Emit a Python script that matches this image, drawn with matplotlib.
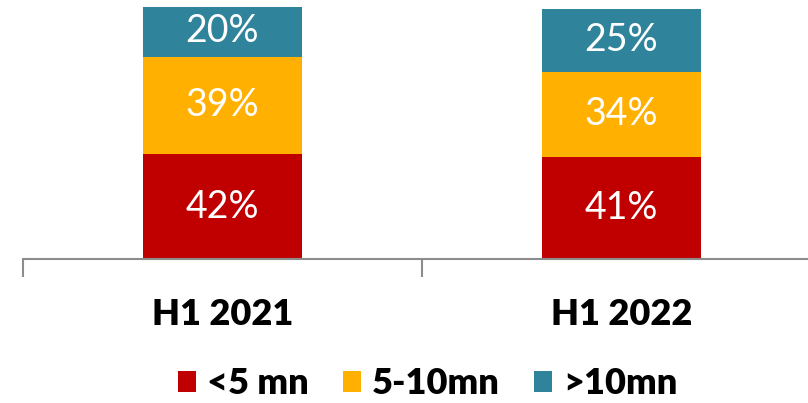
import numpy as np
import matplotlib.pyplot as plt
from matplotlib.patches import Patch

# ------------------------------------------------------------
# Data
# ------------------------------------------------------------
periods = ["H1 2021", "H1 2022"]
series_names = ["<5 mn", "5-10mn", ">10mn"]
under_5 = [42, 41]
from_5_to_10 = [39, 34]
over_10 = [20, 25]

colors = ["#C00000", "#FFB000", "#2F849B"]

# ------------------------------------------------------------
# Figure
# ------------------------------------------------------------
fig = plt.figure(figsize=(8.08, 4.03), dpi=100)
# axis spans from the first category boundary past the right edge
ax = fig.add_axes([23 / 808, (403 - 259) / 403, 798 / 808, 259 / 403])

x = np.arange(len(periods))
bar_w = 0.4
bottom = np.zeros(len(periods))
for vals, col in zip([under_5, from_5_to_10, over_10], colors):
    bars = ax.bar(x, vals, bar_w, bottom=bottom, color=col, edgecolor="none")
    for rect, v in zip(bars, vals):
        ax.text(rect.get_x() + rect.get_width() / 2,
                rect.get_y() + rect.get_height() / 2,
                f"{v}%", ha="center", va="center", color="white",
                fontsize=27, family="Lato", fontweight="normal")
    bottom += np.array(vals)

ax.set_xlim(-0.5, 1.5)
ax.set_ylim(0, 103.6)

for side in ["top", "right", "left"]:
    ax.spines[side].set_visible(False)
ax.spines["bottom"].set_color("#8C8C8C")
ax.spines["bottom"].set_linewidth(1.5)
ax.set_yticks([])

# category labels on major ticks, boundary marks on minor ticks
ax.set_xticks(x)
ax.set_xticklabels(periods, fontsize=26, fontweight="heavy", family="Lato")
ax.tick_params(axis="x", which="major", length=0, pad=28)
ax.set_xticks([-0.5, 0.5, 1.5], minor=True)
ax.tick_params(axis="x", which="minor", length=13, width=1.5, color="#8C8C8C")

handles = [Patch(facecolor=c, edgecolor="none") for c in colors]
fig.legend(handles, series_names, loc="center", bbox_to_anchor=(428 / 808, 1 - 384 / 403),
           ncol=3, frameon=False, prop={"family": "Lato", "weight": "heavy", "size": 26},
           handlelength=0.5, handleheight=0.5, handletextpad=0.3, columnspacing=0.95,
           borderpad=0, borderaxespad=0)

fig.savefig("out.png", dpi=100)
